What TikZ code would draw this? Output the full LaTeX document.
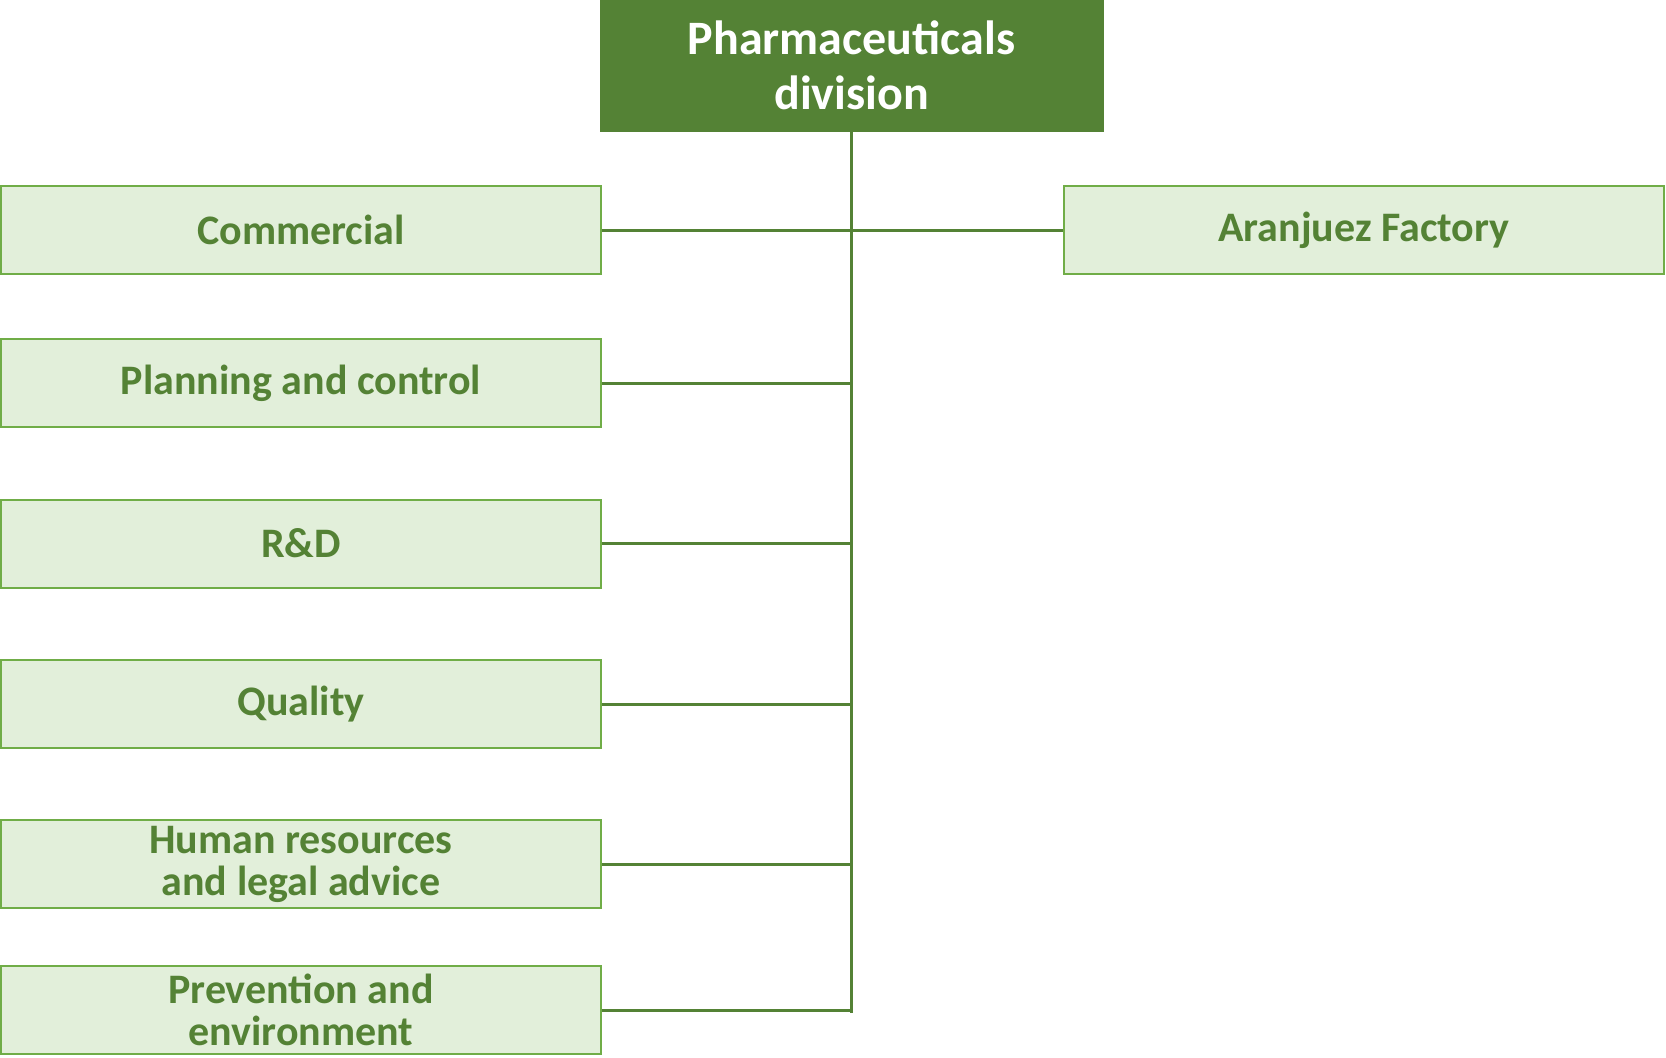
\documentclass[tikz,border=0pt]{standalone}
\usepackage{fontspec}
\setmainfont{Carlito}
\definecolor{dgreen}{HTML}{548235}
\definecolor{lgreen}{HTML}{E2EFDA}
\definecolor{bgreen}{HTML}{70AD47}
\begin{document}
\begin{tikzpicture}[x=0.5pt,y=-0.5pt,
  unitbox/.style={draw=bgreen, line width=1pt, fill=lgreen, text=dgreen,
    minimum width=300pt, minimum height=44pt, inner sep=0pt, align=center,
    font=\fontsize{21}{21}\selectfont\bfseries},
  headbox/.style={draw=dgreen, line width=0.5pt, fill=dgreen, text=white,
    minimum width=251.5pt, minimum height=65.5pt, inner sep=0pt, align=center,
    font=\fontsize{24}{27.5}\selectfont\bfseries},
  link/.style={draw=dgreen, line width=1.5pt}]
\useasboundingbox (0,0) rectangle (1666,1057);
\node[headbox] (top) at (851.5,65.5) {Pharmaceuticals\\division};
\node[unitbox] (com) at (301,230) {Commercial};
\node[unitbox] (plan) at (301,383) {Planning and control};
\node[unitbox] (rd) at (301,543.5) {R\&D};
\node[unitbox] (qual) at (301,704) {Quality};
\node[unitbox] (hr) at (301,864) {Human resources\\and legal advice};
\node[unitbox] (prev) at (301,1010) {Prevention and\\environment};
\node[unitbox] (aran) at (1364,230) {Aranjuez Factory};
\coordinate (trunkend) at (851,1013);
\draw[link] (top.south -| trunkend) -- (trunkend);
\draw[link] (com.east) -- (aran.west);
\foreach \n in {plan,rd,qual,hr,prev}{
  \draw[link] (\n.east) -- (\n.east -| trunkend);
}
\end{tikzpicture}
\end{document}
